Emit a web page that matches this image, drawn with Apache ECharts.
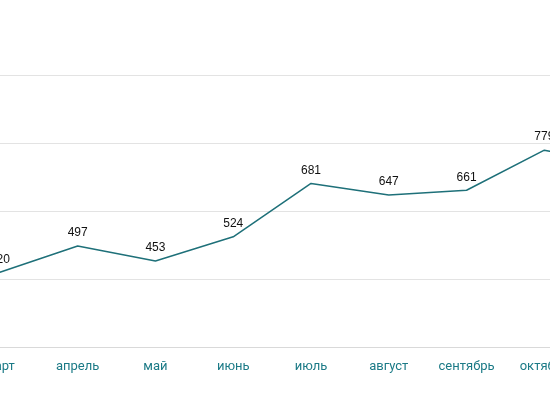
<!DOCTYPE html>
<html>
<head>
<meta charset="utf-8">
<script src="https://cdn.jsdelivr.net/npm/echarts@6/dist/echarts.min.js"></script>
<style>
html,body{margin:0;padding:0;background:#fff;width:550px;height:410px;overflow:hidden;position:relative;}
#c{position:absolute;left:-39px;top:0;width:700px;height:410px;}
</style>
</head>
<body>
<div id="c"></div>
<script>
const categories = ['март', 'апрель', 'май', 'июнь', 'июль', 'август', 'сентябрь', 'октябрь', 'ноябрь'];
const values = [420, 497, 453, 524, 681, 647, 661, 779, 735];
const yTicks = [200, 400, 600, 800, 1000];

const chart = echarts.init(document.getElementById('c'), null, {renderer: 'canvas'});
chart.setOption({
  animation: false,
  backgroundColor: '#fff',
  grid: {left: 0, right: 0, top: 75, bottom: 63, containLabel: false},
  xAxis: {
    type: 'category',
    data: categories,
    boundaryGap: true,
    axisLine: {show: true, lineStyle: {color: '#d9d9d9', width: 1}},
    axisTick: {show: false},
    axisLabel: {color: '#1b7a86', fontSize: 13, margin: 13, fontFamily: 'Roboto, Arial, sans-serif', interval: 0}
  },
  yAxis: {
    type: 'value',
    min: yTicks[0],
    max: yTicks[yTicks.length - 1],
    interval: 200,
    axisLabel: {show: false},
    axisLine: {show: false},
    axisTick: {show: false},
    splitLine: {lineStyle: {color: '#e3e3e3', width: 1}}
  },
  series: [{
    type: 'line',
    data: values,
    showSymbol: true,
    symbol: 'circle',
    symbolSize: 2,
    itemStyle: {color: 'rgba(0,0,0,0)'},
    lineStyle: {color: '#1e7079', width: 1.5},
    label: {show: true, position: 'top', distance: 6, color: '#111', fontSize: 12, fontFamily: 'Arial, sans-serif'}
  }]
});
</script>
</body>
</html>
